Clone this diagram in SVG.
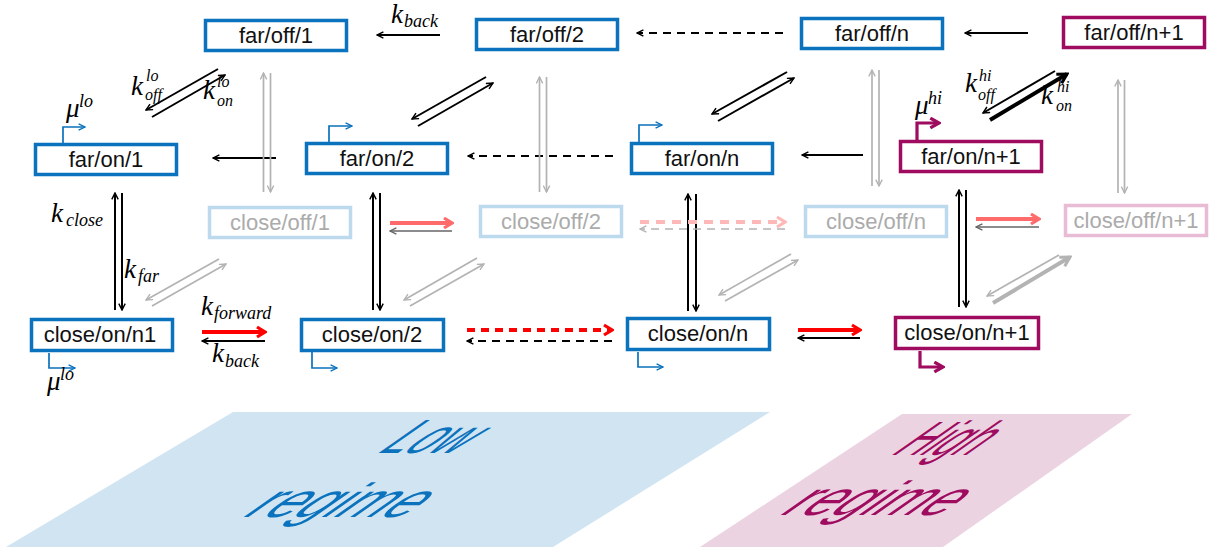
<svg xmlns="http://www.w3.org/2000/svg" width="1210" height="547" viewBox="0 0 1210 547">
<style>
.node rect{fill:#fff;stroke-width:3.5}
.nb rect{stroke:#0b72bd}
.np rect{stroke:#9e0b5f}
.nf rect{stroke:#bcd9ee}
.nfp rect{stroke:#e8bcd5}
.node text{font-family:"Liberation Sans",Arial,sans-serif;font-size:22px;text-anchor:middle;fill:#111}
.nf text,.nfp text{fill:#ababab}
.k{fill:none;stroke:#000;stroke-width:2;marker-end:url(#ak)}
.kd{stroke-dasharray:8 6}
.g{fill:none;stroke:#b3b3b3;stroke-width:1.7;marker-end:url(#ag)}
.gd{fill:none;stroke:#666;stroke-width:1.7;marker-end:url(#agd)}
.r{fill:none;stroke:#f00;stroke-width:4;marker-end:url(#ar)}
.rf{fill:none;stroke:#ff6b6b;stroke-width:4;marker-end:url(#arf)}
.rp{fill:none;stroke:#ffb8b8;stroke-width:4;stroke-dasharray:9 7;marker-end:url(#arp)}
.pb{fill:none;stroke:#0b72bd;stroke-width:1.7;marker-end:url(#ab)}
.pp{fill:none;stroke:#9e0b5f;stroke-width:3.2;marker-end:url(#ap)}
.m{font-family:"Liberation Serif","Times New Roman",serif;font-style:italic;font-size:27px;fill:#000}
.s{font-family:"Liberation Serif","Times New Roman",serif;font-style:italic;font-size:18px;fill:#000}
.t{font-family:"Liberation Serif","Times New Roman",serif;font-style:italic;font-size:16px;fill:#000}
.reg{font-family:"Liberation Sans",Arial,sans-serif;font-size:48px}
</style>
<defs>
<marker id="ak" viewBox="0 0 10 10" refX="9" refY="5" markerWidth="8" markerHeight="8" markerUnits="userSpaceOnUse" orient="auto"><path d="M1,1 L9,5 L1,9" fill="none" stroke="#000" stroke-width="1.8"/></marker>
<marker id="akt" viewBox="0 0 12 12" refX="10" refY="6" markerWidth="14" markerHeight="14" markerUnits="userSpaceOnUse" orient="auto"><path d="M2,1.5 L10,6 L2,10.5" fill="none" stroke="#000" stroke-width="2.6"/></marker>
<marker id="ag" viewBox="0 0 10 10" refX="9" refY="5" markerWidth="8" markerHeight="8" markerUnits="userSpaceOnUse" orient="auto"><path d="M1,1 L9,5 L1,9" fill="none" stroke="#b3b3b3" stroke-width="1.7"/></marker>
<marker id="agt" viewBox="0 0 12 12" refX="10" refY="6" markerWidth="14" markerHeight="14" markerUnits="userSpaceOnUse" orient="auto"><path d="M2,1.5 L10,6 L2,10.5" fill="none" stroke="#b3b3b3" stroke-width="2.6"/></marker>
<marker id="agd" viewBox="0 0 10 10" refX="9" refY="5" markerWidth="8" markerHeight="8" markerUnits="userSpaceOnUse" orient="auto"><path d="M1,1 L9,5 L1,9" fill="none" stroke="#666" stroke-width="1.7"/></marker>
<marker id="ar" viewBox="0 0 12 14" refX="10" refY="7" markerWidth="12" markerHeight="14" markerUnits="userSpaceOnUse" orient="auto"><path d="M2,2 L10,7 L2,12" fill="none" stroke="#f00" stroke-width="3.2"/></marker>
<marker id="arf" viewBox="0 0 12 14" refX="10" refY="7" markerWidth="12" markerHeight="14" markerUnits="userSpaceOnUse" orient="auto"><path d="M2,2 L10,7 L2,12" fill="none" stroke="#ff6b6b" stroke-width="3.2"/></marker>
<marker id="arp" viewBox="0 0 12 14" refX="10" refY="7" markerWidth="12" markerHeight="14" markerUnits="userSpaceOnUse" orient="auto"><path d="M2,2 L10,7 L2,12" fill="none" stroke="#ffb8b8" stroke-width="3.2"/></marker>
<marker id="ab" viewBox="0 0 10 10" refX="9" refY="5" markerWidth="8" markerHeight="8" markerUnits="userSpaceOnUse" orient="auto"><path d="M1,1 L9,5 L1,9" fill="none" stroke="#0b72bd" stroke-width="1.7"/></marker>
<marker id="ap" viewBox="0 0 12 12" refX="10" refY="6" markerWidth="13" markerHeight="13" markerUnits="userSpaceOnUse" orient="auto"><path d="M2,1.5 L10,6 L2,10.5" fill="none" stroke="#9e0b5f" stroke-width="3"/></marker>
</defs>
<rect width="1210" height="547" fill="#fff"/>

<g id="regimes">
<polygon points="233,412 770,412 553,547 6,547" fill="#d1e4f2"/>
<polygon points="902,414 1132,414 943,547 700,547" fill="#ecd3e2"/>
<text class="reg" fill="#0b72bd" transform="translate(375,453) skewX(-55)" textLength="80" lengthAdjust="spacingAndGlyphs">Low</text>
<text class="reg" fill="#0b72bd" transform="translate(240,517) skewX(-55)" textLength="165" lengthAdjust="spacingAndGlyphs">regime</text>
<text class="reg" fill="#9e0b5f" transform="translate(889,455) skewX(-55)" textLength="80" lengthAdjust="spacingAndGlyphs">High</text>
<text class="reg" fill="#9e0b5f" transform="translate(777,515) skewX(-55)" textLength="165" lengthAdjust="spacingAndGlyphs">regime</text>
</g>

<g id="connectors">
<path class="k" d="M440,35 L377,35"/>
<path class="k kd" d="M783,33 L637,33"/>
<path class="k" d="M1028,33 L965,33"/>
<path class="k" d="M276,158 L213,158"/>
<path class="k kd" d="M613,156 L468,156"/>
<path class="k" d="M863,155 L802,155"/>
<path class="k" d="M218,69 L146,110"/>
<path class="k" d="M152,117 L225,75"/>
<path class="k" d="M486,77 L412,119"/>
<path class="k" d="M418,126 L493,83"/>
<path class="k" d="M787,72 L712,114"/>
<path class="k" d="M718,121 L794,78"/>
<path class="k" d="M1055,71 L983,113"/>
<path d="M990,120 L1067,74" fill="none" stroke="#000" stroke-width="4" marker-end="url(#akt)"/>
<path class="g" d="M263.5,192 L263.5,73"/>
<path class="g" d="M270.5,73 L270.5,192"/>
<path class="g" d="M539.5,192 L539.5,77"/>
<path class="g" d="M546.5,77 L546.5,192"/>
<path class="g" d="M872,186 L872,70"/>
<path class="g" d="M879,70 L879,186"/>
<path class="g" d="M1118,193 L1118,80"/>
<path class="g" d="M1124.5,80 L1124.5,193"/>
<path class="k" d="M115,310 L115,193"/>
<path class="k" d="M122,193 L122,310"/>
<path class="k" d="M373,310 L373,193"/>
<path class="k" d="M380,193 L380,310"/>
<path class="k" d="M688,311 L688,194"/>
<path class="k" d="M696,194 L696,311"/>
<path class="k" d="M959,307 L959,190"/>
<path class="k" d="M966,190 L966,307"/>
<path class="rf" d="M390,223 L452,223"/>
<path class="gd" d="M452,231 L390,231"/>
<path class="rp" d="M640,222 L785,222"/>
<path class="g kd" d="M785,229 L640,229"/>
<path class="rf" d="M976,219 L1039,219"/>
<path class="gd" d="M1039,227 L976,227"/>
<path class="g" d="M219,259 L146,300"/>
<path class="g" d="M152,306 L226,264"/>
<path class="g" d="M477,258 L404,300"/>
<path class="g" d="M410,306 L484,264"/>
<path class="g" d="M791,254 L719,295"/>
<path class="g" d="M725,301 L798,260"/>
<path class="g" d="M1059,255 L987,296"/>
<path d="M993,303 L1070,257" fill="none" stroke="#b3b3b3" stroke-width="4" marker-end="url(#agt)"/>
<path class="r" d="M202,332 L265,332"/>
<path class="k" d="M265,341 L202,341"/>
<path class="r kd" d="M467,330 L612,330"/>
<path class="k kd" d="M612,341 L467,341"/>
<path class="r" d="M798,330 L860,330"/>
<path class="k" d="M860,338 L798,338"/>
<path class="pb" d="M63,143 L63,127 L85,127"/>
<path class="pb" d="M329,142 L329,126 L352,126"/>
<path class="pb" d="M639,142 L639,125 L662,125"/>
<path class="pp" d="M917,140 L917,123 L939,123"/>
<path class="pb" d="M49,353 L49,368 L75,368"/>
<path class="pb" d="M312,352 L312,368 L337,368"/>
<path class="pb" d="M638,352 L638,367 L663,367"/>
<path class="pp" d="M920,351 L920,367 L943,367"/>
</g>

<g id="nodes">
<g id="far-off-1" class="node nb"><rect x="205.5" y="20.5" width="141" height="30"/><text x="276" y="43">far/off/1</text></g>
<g id="far-off-2" class="node nb"><rect x="476.5" y="19.5" width="141" height="30"/><text x="547" y="42">far/off/2</text></g>
<g id="far-off-n" class="node nb"><rect x="801.5" y="18.5" width="141" height="30"/><text x="872" y="41">far/off/n</text></g>
<g id="far-off-n1" class="node np"><rect x="1063.5" y="17.5" width="141" height="30"/><text x="1134" y="40">far/off/n+1</text></g>
<g id="far-on-1" class="node nb"><rect x="35.5" y="144.5" width="141" height="30"/><text x="106" y="167">far/on/1</text></g>
<g id="far-on-2" class="node nb"><rect x="306.5" y="143.5" width="141" height="30"/><text x="377" y="166">far/on/2</text></g>
<g id="far-on-n" class="node nb"><rect x="631.5" y="143.5" width="141" height="30"/><text x="702" y="166">far/on/n</text></g>
<g id="far-on-n1" class="node np"><rect x="900.5" y="141.5" width="141" height="30"/><text x="971" y="164">far/on/n+1</text></g>
<g id="close-off-1" class="node nf"><rect x="209.5" y="207.5" width="141" height="30"/><text x="280" y="230">close/off/1</text></g>
<g id="close-off-2" class="node nf"><rect x="480.5" y="206.5" width="141" height="30"/><text x="551" y="229">close/off/2</text></g>
<g id="close-off-n" class="node nf"><rect x="805.5" y="206.5" width="141" height="30"/><text x="876" y="229">close/off/n</text></g>
<g id="close-off-n1" class="node nfp"><rect x="1065.5" y="205.5" width="141" height="30"/><text x="1136" y="228">close/off/n+1</text></g>
<g id="close-on-1" class="node nb"><rect x="31.5" y="319.5" width="141" height="31"/><text x="100" y="342">close/on/n1</text></g>
<g id="close-on-2" class="node nb"><rect x="301.5" y="319.5" width="142" height="31"/><text x="372" y="342">close/on/2</text></g>
<g id="close-on-n" class="node nb"><rect x="627.5" y="318.5" width="142" height="31"/><text x="698" y="341">close/on/n</text></g>
<g id="close-on-n1" class="node np"><rect x="895.5" y="317.5" width="143" height="31"/><text x="967" y="340">close/on/n+1</text></g>
</g>

<g id="labels">
<text class="m" x="391" y="23">k</text><text class="s" x="404" y="27">back</text>
<text class="m" x="131" y="95">k</text><text class="t" x="146" y="81">lo</text><text class="t" x="145" y="100">off</text>
<text class="m" x="203" y="99">k</text><text class="t" x="217" y="87">lo</text><text class="t" x="217" y="106">on</text>
<text class="m" x="66" y="117">μ</text><text class="s" x="79" y="107">lo</text>
<text class="m" x="51" y="222">k</text><text class="s" x="66" y="226">close</text>
<text class="m" x="124" y="278">k</text><text class="s" x="138" y="282">far</text>
<text class="m" x="201" y="315">k</text><text class="s" x="214" y="319">forward</text>
<text class="m" x="212" y="362">k</text><text class="s" x="225" y="367">back</text>
<text class="m" x="47" y="390">μ</text><text class="s" x="60" y="380">lo</text>
<text class="m" x="915" y="114">μ</text><text class="s" x="928" y="104">hi</text>
<text class="m" x="965" y="92">k</text><text class="t" x="979" y="81">hi</text><text class="t" x="978" y="100">off</text>
<text class="m" x="1041" y="104">k</text><text class="t" x="1057" y="92">hi</text><text class="t" x="1056" y="111">on</text>
</g>
</svg>
